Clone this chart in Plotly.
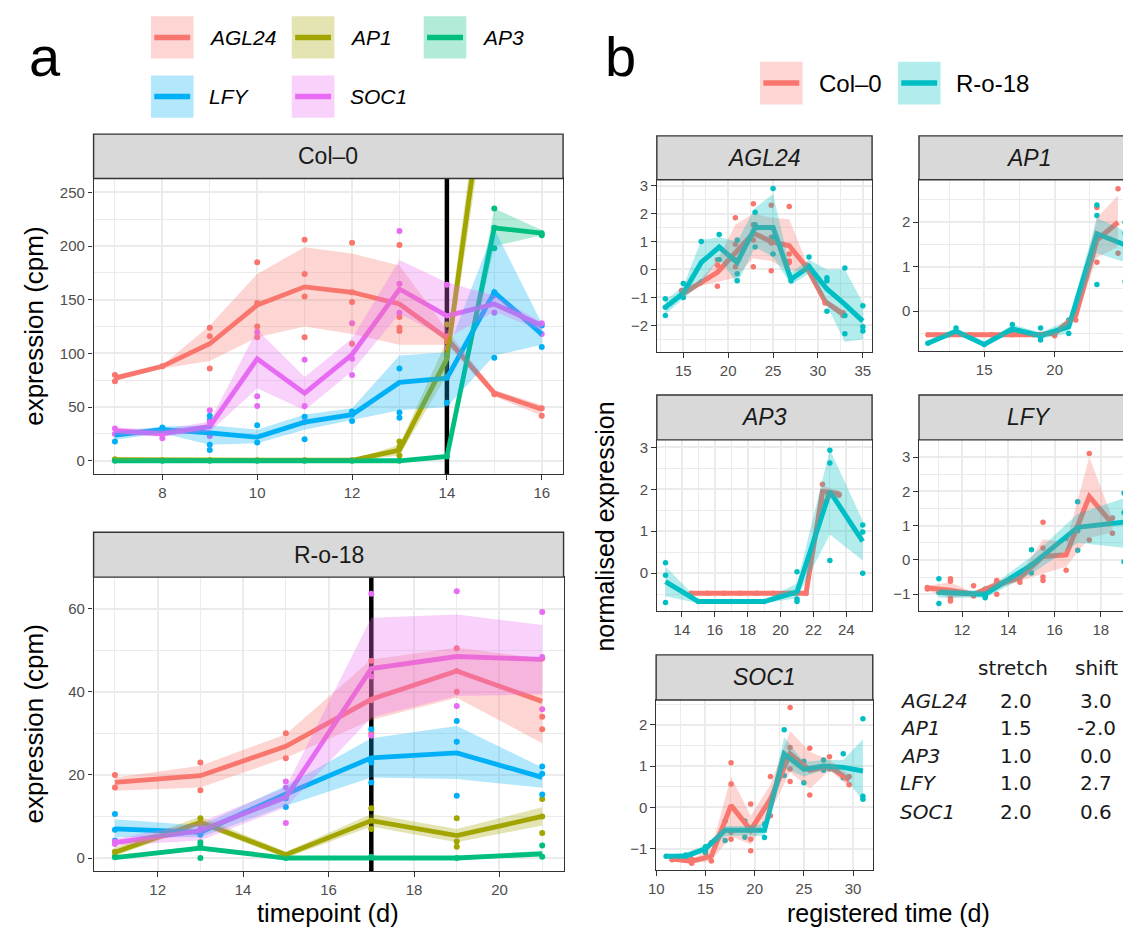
import plotly.graph_objects as go

# The page body has an 8px margin, so the figure is drawn 8px in from the window edge.
OFF = 8
W, H = 1131 - OFF, 930 - OFF
FONT = "Liberation Sans, Arial, sans-serif"
TFONT = "DejaVu Sans, Verdana, sans-serif"


def PX(x):
    return (x - OFF) / W


def PY(y):
    return 1 - (y - OFF) / H


def rgba(hexc, a):
    h = hexc.lstrip('#')
    return f"rgba({int(h[0:2],16)},{int(h[2:4],16)},{int(h[4:6],16)},{a})"


GENES = ["AGL24", "AP1", "AP3", "LFY", "SOC1"]
GENE_COLORS = {"AGL24": "#F8766D", "AP1": "#A3A500", "AP3": "#00BF7D",
               "LFY": "#00B0F6", "SOC1": "#E76BF3"}
GENOTYPES = ["Col–0", "R-o-18"]
GENO_COLORS = {"Col–0": "#F8766D", "R-o-18": "#00BFC4"}

# ---------------- panel a : Col-0 ----------------
col0_time = [7, 8, 9, 10, 11, 12, 13, 14, 15, 16]
col0_mean = {
    "AGL24": [77, 88, 109, 145, 162, 157, 146, 114, 63, 48],
    "AP1": [1, 0.5, 0.5, 0.5, 0.5, 0.5, 10, 95, 415, 480],
    "AP3": [0, 0, 0, 0, 0, 0, 0, 4, 217, 212],
    "LFY": [24, 29, 26, 22, 36, 43, 73, 77, 157, 118],
    "SOC1": [28, 25, 32, 95, 63, 99, 160, 135, 146, 126],
}
col0_lo = {
    "AGL24": [74, 86, 93, 115, 125, 118, 108, 108, 60, 42],
    "AP1": [0, 0, 0, 0, 0, 0, 5, 80, 380, 440],
    "AP3": [0, 0, 0, 0, 0, 0, 0, 3, 200, 210],
    "LFY": [19.5, 25.7, 15, 16.4, 28.8, 38, 47, 50, 98, 108],
    "SOC1": [24, 22.6, 27, 67.5, 47, 83.5, 137, 114, 139, 121],
}
col0_hi = {
    "AGL24": [80, 89, 126, 174, 199, 193, 182, 122, 66, 52],
    "AP1": [2, 1, 1, 1, 1, 1, 15, 112, 450, 520],
    "AP3": [0.5, 0.5, 0.5, 0.5, 0.5, 0.5, 0.5, 5, 235, 215],
    "LFY": [27, 32, 33, 29, 43, 49, 98, 101, 216, 128],
    "SOC1": [31, 29, 36.5, 122, 78, 114, 187, 166, 154, 129],
}
col0_pts = {
    "AGL24": [[80, 74], [88], [124, 116, 86], [185, 147, 125, 115], [206, 174, 153, 115],
              [203, 157, 148, 109], [201, 134, 124, 121], [116, 111], [62], [49, 42]],
    "AP1": [[1.5], [0.5], [0.5], [0.5], [0.5], [0.5], [18, 13, 5], [127, 78], [], []],
    "AP3": [[0], [0], [0], [0], [0], [0], [0], [4], [235, 198], [212, 210]],
    "LFY": [[18], [31, 28], [42, 38, 15, 10], [33, 17], [41, 20], [46, 43, 37],
            [86, 45, 40], [98, 78, 54], [217, 157, 96], [126, 106]],
    "SOC1": [[30, 25], [27, 21], [47, 36, 23], [120, 60, 51], [94, 51, 36], [128, 95, 80],
             [214, 165, 138], [164, 105], [154, 138], [128, 118]],
}
col0_flowering_day = 14

# ---------------- panel a : R-o-18 ----------------
ro18_time = [11, 13, 15, 17, 19, 21]
ro18_mean = {
    "AGL24": [18.2, 19.8, 26.9, 38.2, 45, 37.7],
    "AP1": [1.4, 8.6, 0.8, 9, 5.4, 10],
    "AP3": [0.1, 2.4, 0, 0, 0, 1],
    "LFY": [7, 6.2, 15.4, 24.1, 25.3, 19.4],
    "SOC1": [3.7, 6.6, 14.6, 45.6, 48.5, 47.8],
}
ro18_lo = {
    "AGL24": [16.2, 17, 24.1, 33.2, 38.6, 27.6],
    "AP1": [0.5, 7.8, 0, 7.6, 3.8, 7.8],
    "AP3": [0, 1.8, -0.2, -0.2, -0.2, 0.3],
    "LFY": [5, 5, 12.6, 19.4, 19, 16.9],
    "SOC1": [3, 4.2, 12.2, 33.8, 39, 39.4],
}
ro18_hi = {
    "AGL24": [19.4, 22.2, 29.8, 47.8, 50.6, 48],
    "AP1": [2.5, 10, 1.5, 10.6, 7, 12.2],
    "AP3": [0.5, 3, 0.2, 0.2, 0.2, 1.8],
    "LFY": [9.3, 7.8, 17.4, 28.8, 31.8, 21.8],
    "SOC1": [4.6, 8.6, 17, 57.8, 58.6, 56.1],
}
ro18_pts = {
    "AGL24": [[20, 17], [23, 16.3], [30, 24], [47.5, 38, 30], [50.5, 45, 40], [48, 34, 31]],
    "AP1": [[1.5, 0.5], [9.6, 8], [0.5], [12, 9, 7], [9.6, 4, 2.7], [14.2, 10, 6]],
    "AP3": [[0.2], [3.8, 3, 0], [0], [0.3], [0], [3, 0.3]],
    "LFY": [[10.6, 6.8, 4.2], [5.6, 6], [14.4, 12.3], [31, 23, 18.2], [33, 28, 15], [22, 20.3, 15.3]],
    "SOC1": [[4, 3.4], [8.4, 7], [18.4, 17, 8.4], [63.6, 43.7, 29.4], [64.2, 36.6], [59.2, 48.4, 35.8]],
}
ro18_flowering_day = 17

# ---------------- panel b : registered ----------------
reg_col0_x = {
    "AGL24": [14.8, 16.8, 18.8, 20.8, 22.8, 24.8, 26.8, 28.8, 30.8, 32.8],
    "AP1": [11, 12.5, 14, 15.5, 17, 18.5, 20, 21.5, 23, 24.5],
    "AP3": [14.55, 15.55, 16.55, 17.55, 18.55, 19.55, 20.55, 21.55, 22.55, 23.55],
    "LFY": [10.5, 11.5, 12.5, 13.5, 14.5, 15.5, 16.5, 17.5, 18.5],
    "SOC1": [11.6, 13.6, 15.6, 17.6, 19.6, 21.6, 23.6, 25.6, 27.6, 29.6],
}
reg_col0_mean = {
    "AGL24": [-0.9, -0.5, -0.1, 0.6, 1.3, 1.0, 0.85, 0.05, -1.15, -1.6],
    "AP1": [-0.53, -0.53, -0.53, -0.53, -0.53, -0.53, -0.5, -0.1, 1.6, 2.0],
    "AP3": [-0.48, -0.48, -0.48, -0.48, -0.48, -0.48, -0.48, -0.48, 1.95, 1.9],
    "LFY": [-0.82, -0.88, -1.0, -0.72, -0.52, 0.1, 0.15, 1.85, 1.05],
    "SOC1": [-1.25, -1.3, -1.18, 0.05, -0.55, 0.2, 1.3, 0.9, 1.0, 0.65],
}
reg_col0_lo = {
    "AGL24": [-1.0, -0.6, -0.45, -0.3, 0.4, 0.3, -0.05, -0.1, -1.25, -1.75],
    "AP1": [-0.56, -0.56, -0.56, -0.56, -0.56, -0.56, -0.55, -0.2, 1.2, 1.45],
    "AP3": [-0.5, -0.5, -0.5, -0.5, -0.5, -0.5, -0.5, -0.5, 1.7, 1.85],
    "LFY": [-0.9, -1.1, -1.05, -0.85, -0.62, -0.4, -0.2, 0.65, 0.8],
    "SOC1": [-1.3, -1.35, -1.3, -0.7, -0.9, -0.1, 0.85, 0.45, 0.9, 0.5],
}
reg_col0_hi = {
    "AGL24": [-0.75, -0.4, 0.35, 1.6, 2.0, 1.85, 1.8, 0.2, -1.05, -1.45],
    "AP1": [-0.5, -0.5, -0.5, -0.5, -0.5, -0.5, -0.45, 0.0, 2.1, 2.6],
    "AP3": [-0.46, -0.46, -0.46, -0.46, -0.46, -0.46, -0.46, -0.46, 2.1, 1.95],
    "LFY": [-0.75, -0.65, -0.95, -0.6, -0.45, 0.6, 0.5, 3.0, 1.22],
    "SOC1": [-1.2, -1.25, -1.0, 0.75, -0.2, 0.55, 1.85, 1.35, 1.15, 0.8],
}
reg_col0_pts = {
    "AGL24": [[-0.75, -0.9], [-0.5], [0.35, 0.15, -0.6], [1.85, 0.9, 0.35, 0.1],
              [2.35, 1.6, 1.05, 0.1], [2.3, 1.15, 0.95, -0.05], [2.25, 0.55, 0.3, 0.25],
              [0.15, 0.05], [-1.15, -1.2], [-1.55, -1.65]],
    "AP1": [[-0.53], [-0.53], [-0.53], [-0.53], [-0.53], [-0.53], [-0.55, -0.5],
            [0.0, -0.2], [2.33, 1.1], [2.75, 1.3]],
    "AP3": [[-0.48], [-0.48], [-0.48], [-0.48], [-0.48], [-0.48], [-0.48], [-0.48],
            [2.12, 1.72], [1.88, 1.86]],
    "LFY": [[-0.8, -0.85], [-0.55, -0.62, -1.12, -1.2], [-0.75, -1.05], [-0.6, -0.65, -1.0],
            [-0.45, -0.55, -0.65], [1.1, 0.35, -0.5, -0.6], [0.62, -0.3], [3.1, 0.58], [1.22, 0.78]],
    "SOC1": [[-1.2, -1.27], [-1.25, -1.35], [-0.85, -1.3], [1.08, 0.57, -0.6, -0.77],
             [0.08, -0.5, -0.77, -1.05], [0.75, 0.17, -0.2], [2.42, 1.45, 0.93, 0.63],
             [1.43, 0.3], [1.23, 0.93], [0.75, 0.55]],
}
reg_ro18_x = {
    "AGL24": [13, 15, 17, 19, 21, 23, 25, 27, 29, 31, 33, 35],
    "AP1": [11, 13, 15, 17, 19, 21, 23, 25],
    "AP3": [13, 15, 17, 19, 21, 23, 25],
    "LFY": [11, 13, 15, 17, 19],
    "SOC1": [11, 13, 15, 17, 19, 21, 23, 25, 27, 29, 31],
}
reg_ro18_mean = {
    "AGL24": [-1.35, -0.85, 0.25, 0.8, 0.25, 1.5, 1.5, -0.35, 0.1, -0.7, -1.25, -1.85],
    "AP1": [-0.72, -0.45, -0.75, -0.4, -0.55, -0.35, 1.74, 1.49],
    "AP3": [-0.2, -0.68, -0.68, -0.68, -0.45, 1.95, 0.76],
    "LFY": [-0.95, -1.0, -0.15, 0.95, 1.1],
    "SOC1": [-1.18, -1.18, -1.0, -0.55, -0.55, -0.55, 1.3, 0.92, 1.0, 0.97, 0.88],
}
reg_ro18_lo = {
    "AGL24": [-1.6, -1.05, -0.5, 0.4, -0.5, 0.8, 0.45, -0.55, -0.15, -1.3, -2.6, -2.5],
    "AP1": [-0.75, -0.52, -0.78, -0.47, -0.62, -0.5, 1.3, 1.1],
    "AP3": [-0.55, -0.72, -0.72, -0.72, -0.6, 0.92, 0.3],
    "LFY": [-1.1, -1.1, -0.4, 0.5, 0.35],
    "SOC1": [-1.22, -1.25, -1.08, -0.7, -0.68, -0.7, 0.95, 0.75, 0.9, 0.8, 0.15],
}
reg_ro18_hi = {
    "AGL24": [-1.1, -0.6, 1.05, 1.15, 1.0, 2.2, 2.7, -0.1, 0.35, 0.0, 0.0, -1.2],
    "AP1": [-0.69, -0.38, -0.72, -0.3, -0.48, -0.2, 2.1, 1.8],
    "AP3": [0.15, -0.64, -0.64, -0.64, -0.25, 2.95, 1.25],
    "LFY": [-0.85, -0.9, 0.1, 1.35, 1.8],
    "SOC1": [-1.14, -1.1, -0.92, -0.45, -0.45, -0.4, 1.7, 1.1, 1.15, 1.15, 1.65],
}
reg_ro18_pts = {
    "AGL24": [[-1.05, -1.35, -1.65], [-0.5, -1.0], [1.0, -0.45], [1.25, 0.35], [1.05, -0.15, -0.4],
              [2.05, 1.6, 0.8], [2.9, 1.15, 0.55], [-0.4], [0.45, 0.1], [-0.3, -0.4, -1.5],
              [0.05, -1.65, -2.3], [-1.3, -2.05, -2.2]],
    "AP1": [[-0.72], [-0.38, -0.5, -0.52], [-0.75], [-0.3, -0.45], [-0.38, -0.6, -0.65],
            [-0.2, -0.5], [2.39, 2.15, 0.6], [2.0, 1.75, 0.67]],
    "AP3": [[0.25, -0.05, -0.7], [-0.68], [-0.68], [-0.68], [0.03, -0.62, -0.68],
            [2.93, 2.63, 0.3], [1.15, 0.98, 0.0]],
    "LFY": [[-0.55, -0.95, -1.27], [-0.85, -1.05, -1.1], [0.3, -0.15, -0.38],
            [1.7, 0.85, 0.28], [1.95, 1.38, -0.05]],
    "SOC1": [[-1.18], [-1.15, -1.22], [-0.95, -1.05, -1.1], [-0.33, -0.8], [-0.33, -0.72],
             [-0.4, -0.73], [1.88, 0.77], [1.12, 0.95, 0.6], [1.15, 0.9], [1.3, 0.72],
             [2.15, 0.27, 0.2]],
}
table_stretch = [2.0, 1.5, 1.0, 1.0, 2.0]
table_shift = [3.0, -2.0, 0.0, 2.7, 0.6]

# ---------------- layout geometry (window pixels) ----------------
PANELS = {
    1: dict(px=(86.2, 559.5), py=(176, 472.7), sy=(131.5, 176), sx1=559.5, xr=[6.55, 16.45], yr=[-12.5, 263],
            xt=(8, 2, 1), yt=(0, 50, 25), fs=15),
    2: dict(px=(86.2, 560), py=(576, 870.7), sy=(531, 576), sx1=560, xr=[10.5, 21.5], yr=[-3.1, 67.6],
            xt=(12, 2, 1), yt=(0, 20, 10), fs=15),
    3: dict(px=(654, 871), py=(177.3, 350), sy=(133.3, 177.3), sx1=871, xr=[12.05, 36.03], yr=[-2.95, 3.21],
            xt=(15, 5, 2.5), yt=(0, 1, 0.5), fs=15),
    4: dict(px=(918.3, 1131), py=(177.3, 349.3), sy=(133.3, 177.3), sx1=1140, xr=[10.37, 25.35], yr=[-0.9, 2.955],
            xt=(15, 5, 2.5), yt=(0, 1, 0.5), fs=15),
    5: dict(px=(654, 871), py=(438.3, 610), sy=(393.3, 438.3), sx1=871, xr=[12.47, 25.57], yr=[-0.905, 3.18],
            xt=(14, 2, 1), yt=(0, 1, 0.5), fs=15),
    6: dict(px=(918.3, 1131), py=(438.3, 610), sy=(393.3, 438.3), sx1=1140, xr=[10.14, 19.26], yr=[-1.49, 3.5],
            xt=(12, 2, 1), yt=(0, 1, 0.5), fs=15),
    7: dict(px=(653.3, 871.7), py=(699.3, 870), sy=(654, 699.3), sx1=871.7, xr=[9.99, 32.0], yr=[-1.52, 2.6],
            xt=(10, 5, 2.5), yt=(0, 1, 0.5), fs=15),
}
STRIP_TEXT = {1: ("Col–0", False, 23), 2: ("R-o-18", False, 23), 3: ("AGL24", True, 23),
              4: ("AP1", True, 23), 5: ("AP3", True, 23), 6: ("LFY", True, 23), 7: ("SOC1", True, 23)}
REG_AXIS = {"AGL24": 3, "AP1": 4, "AP3": 5, "LFY": 6, "SOC1": 7}

fig = go.Figure()


def ax_names(i):
    return ("x" if i == 1 else f"x{i}"), ("y" if i == 1 else f"y{i}")


def expand(xs, pts):
    ox, oy = [], []
    for x, vals in zip(xs, pts):
        for v in vals:
            ox.append(x)
            oy.append(v)
    return ox, oy


def add_vline(i, day):
    xa, ya = ax_names(i)
    fig.add_trace(go.Scatter(x=[day, day], y=PANELS[i]["yr"], mode="lines", xaxis=xa, yaxis=ya,
                             line=dict(color="black", width=4.5), showlegend=False, hoverinfo="skip"))


def add_layers(i, groups, lw, ms):
    xa, ya = ax_names(i)
    for (x, mean, lo, hi, pts, color) in groups:
        px_, py_ = expand(x, pts)
        fig.add_trace(go.Scatter(x=px_, y=py_, mode="markers", xaxis=xa, yaxis=ya,
                                 marker=dict(color=color, size=ms, line=dict(width=0)),
                                 showlegend=False, hoverinfo="skip"))
    for (x, mean, lo, hi, pts, color) in groups:
        fig.add_trace(go.Scatter(x=x, y=mean, mode="lines", xaxis=xa, yaxis=ya,
                                 line=dict(color=color, width=lw), showlegend=False, hoverinfo="skip"))
    for (x, mean, lo, hi, pts, color) in groups:
        fig.add_trace(go.Scatter(x=list(x) + list(x)[::-1], y=list(hi) + list(lo)[::-1],
                                 mode="lines", fill="toself", fillcolor=rgba(color, 0.3),
                                 line=dict(width=0), xaxis=xa, yaxis=ya,
                                 showlegend=False, hoverinfo="skip"))


add_vline(1, col0_flowering_day)
add_layers(1, [(col0_time, col0_mean[g], col0_lo[g], col0_hi[g], col0_pts[g], GENE_COLORS[g])
               for g in GENES], 4.8, 6)
add_vline(2, ro18_flowering_day)
add_layers(2, [(ro18_time, ro18_mean[g], ro18_lo[g], ro18_hi[g], ro18_pts[g], GENE_COLORS[g])
               for g in GENES], 4.8, 6)
for g in GENES:
    add_layers(REG_AXIS[g], [
        (reg_col0_x[g], reg_col0_mean[g], reg_col0_lo[g], reg_col0_hi[g], reg_col0_pts[g], GENO_COLORS["Col–0"]),
        (reg_ro18_x[g], reg_ro18_mean[g], reg_ro18_lo[g], reg_ro18_hi[g], reg_ro18_pts[g], GENO_COLORS["R-o-18"]),
    ], 5, 5.5)

shapes = []
annotations = []
layout = {}

for i, p in PANELS.items():
    xa, ya = ax_names(i)
    xkey = "xaxis" if i == 1 else f"xaxis{i}"
    ykey = "yaxis" if i == 1 else f"yaxis{i}"
    common = dict(showline=True, mirror=True, linecolor="#333333", linewidth=1.4,
                  ticks="outside", ticklen=4.5, tickwidth=1.1, tickcolor="#333333",
                  tickfont=dict(size=p["fs"], color="#4D4D4D", family=FONT),
                  showgrid=True, gridcolor="#EBEBEB", gridwidth=1.8, zeroline=False,
                  fixedrange=True, tickmode="linear")
    layout[xkey] = dict(common, domain=[PX(p["px"][0]), min(1.0, PX(p["px"][1]))], range=p["xr"], anchor=ya,
                        tick0=p["xt"][0], dtick=p["xt"][1],
                        minor=dict(tick0=p["xt"][0], dtick=p["xt"][2], showgrid=True,
                                   gridcolor="#EBEBEB", gridwidth=0.9, ticks=""))
    layout[ykey] = dict(common, domain=[PY(p["py"][1]), PY(p["py"][0])], range=p["yr"], anchor=xa,
                        tick0=p["yt"][0], dtick=p["yt"][1],
                        minor=dict(tick0=p["yt"][0], dtick=p["yt"][2], showgrid=True,
                                   gridcolor="#EBEBEB", gridwidth=0.9, ticks=""))
    shapes.append(dict(type="rect", xref="paper", yref="paper",
                       x0=PX(p["px"][0]), x1=PX(p["sx1"]), y0=PY(p["sy"][1]), y1=PY(p["sy"][0]),
                       fillcolor="#D9D9D9", line=dict(color="#333333", width=1.4), layer="above"))
    txt, ital, fs = STRIP_TEXT[i]
    annotations.append(dict(xref="paper", yref="paper", x=PX((p["px"][0] + p["sx1"]) / 2),
                            y=PY((p["sy"][0] + p["sy"][1]) / 2), text=txt, showarrow=False,
                            xanchor="center", yanchor="middle",
                            font=dict(size=fs, color="#1A1A1A", family=FONT,
                                      style="italic" if ital else "normal")))


def text(x, y, s, size, angle=0, xanchor="center", italic=False, family=FONT, color="black"):
    annotations.append(dict(xref="paper", yref="paper", x=PX(x), y=PY(y), text=s, showarrow=False,
                            xanchor=xanchor, yanchor="middle", textangle=angle,
                            font=dict(size=size, color=color, family=family,
                                      style="italic" if italic else "normal")))


# axis titles and panel labels
text(26, 324, "expression (cpm)", 26, angle=-90)
text(26, 723, "expression (cpm)", 26, angle=-90)
text(323, 913, "timepoint (d)", 25.5)
text(602, 525, "normalised expression", 25, angle=-90)
text(888, 913, "registered time (d)", 25)
text(37, 54, "a", 56)
text(617, 54, "b", 56)

# legend a (genes)
legend_a_pos = {"AGL24": (144, 13.3), "AP1": (286, 13.3), "AP3": (419, 13.3),
                "LFY": (144, 72.7), "SOC1": (286, 72.7)}
for g in GENES:
    kx, ky = legend_a_pos[g]
    kw, kh = 43, 42.4
    shapes.append(dict(type="rect", xref="paper", yref="paper", x0=PX(kx), x1=PX(kx + kw),
                       y0=PY(ky + kh), y1=PY(ky), fillcolor=rgba(GENE_COLORS[g], 0.3), line=dict(width=0)))
    shapes.append(dict(type="line", xref="paper", yref="paper", x0=PX(kx + 3.4), x1=PX(kx + kw - 3.4),
                       y0=PY(ky + kh / 2), y1=PY(ky + kh / 2), line=dict(color=GENE_COLORS[g], width=5.5)))
    text(kx + 57, ky + kh / 2, g, 21, xanchor="left", italic=True)

# legend b (genotypes)
legend_b_pos = {"Col–0": (758, 59), "R-o-18": (897, 59)}
for geno in GENOTYPES:
    kx, ky = legend_b_pos[geno]
    kw, kh = 43, 42.7
    shapes.append(dict(type="rect", xref="paper", yref="paper", x0=PX(kx), x1=PX(kx + kw),
                       y0=PY(ky + kh), y1=PY(ky), fillcolor=rgba(GENO_COLORS[geno], 0.3), line=dict(width=0)))
    shapes.append(dict(type="line", xref="paper", yref="paper", x0=PX(kx + 3.4), x1=PX(kx + kw - 3.4),
                       y0=PY(ky + kh / 2), y1=PY(ky + kh / 2), line=dict(color=GENO_COLORS[geno], width=5.5)))
    text(kx + 57, ky + kh / 2, geno, 24, xanchor="left")

# stretch / shift table
text(1013, 667, "stretch", 20, family=TFONT, color="#1A1A1A")
text(1097, 667, "shift", 20, family=TFONT, color="#1A1A1A")
row_y = [700, 727, 755, 783, 812]
for g, st, sh, yy in zip(GENES, table_stretch, table_shift, row_y):
    text(897, yy, g, 20, xanchor="left", italic=True, family=TFONT, color="#1A1A1A")
    text(1016, yy, f"{st:.1f}", 20, family=TFONT, color="#1A1A1A")
    text(1097, yy, f"{sh:.1f}", 20, family=TFONT, color="#1A1A1A")

fig.update_layout(
    width=W, height=H, margin=dict(l=0, r=0, t=0, b=0),
    paper_bgcolor="white", plot_bgcolor="white",
    font=dict(family=FONT), showlegend=False, hovermode=False,
    shapes=shapes, annotations=annotations, **layout,
)

fig.write_html("out.html")
